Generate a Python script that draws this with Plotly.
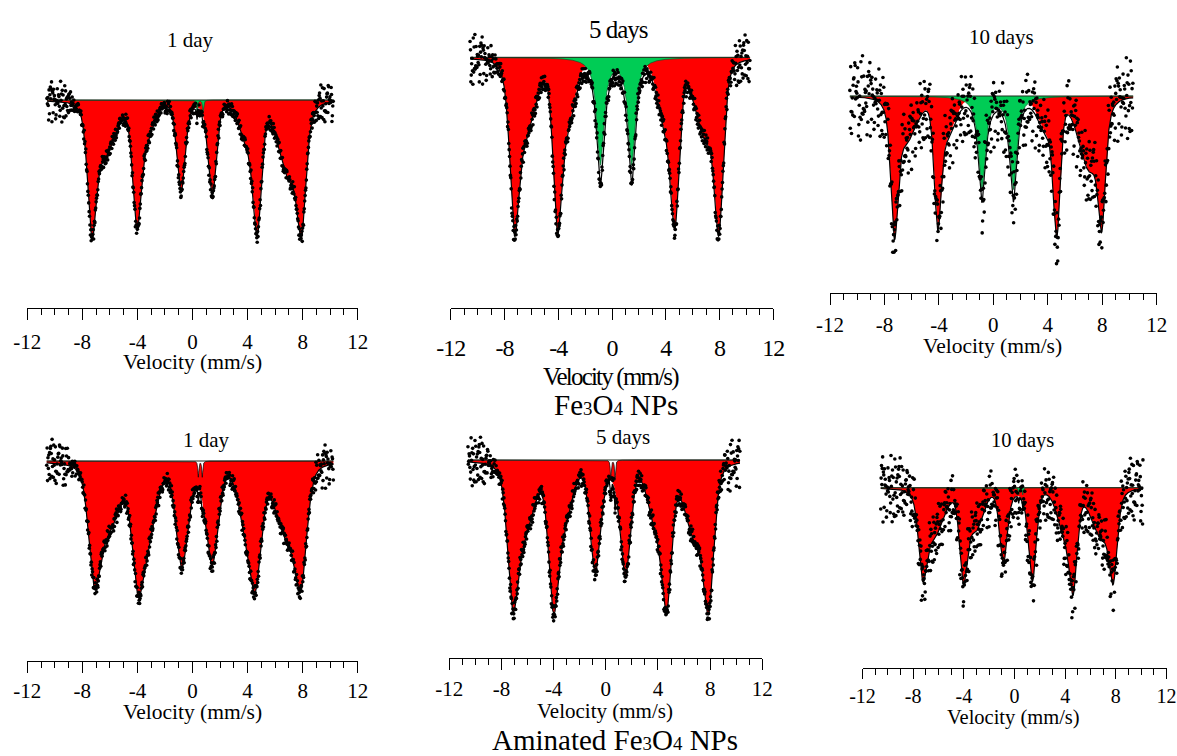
import numpy as np
import plotly.graph_objects as go

# ---------------- data ----------------
panel_titles = ["1 day", "5 days", "10 days", "1 day", "5 days", "10 days"]
group_labels = ["Fe<span style='font-size:65%'>3</span>O<span style='font-size:65%'>4</span> NPs",
                "Aminated Fe<span style='font-size:65%'>3</span>O<span style='font-size:65%'>4</span> NPs"]
tick_values = [-12, -8, -4, 0, 4, 8, 12]
tick_labels = ["-12", "-8", "-4", "0", "4", "8", "12"]
minor_tick_values = list(range(-12, 13))
axis_title = "Velocity (mm/s)"

# measured velocity span of each spectrum (mm/s)
velocity_start = [-10.57, -10.56, -10.54, -10.59, -10.57, -10.56]
velocity_end = [10.23, 10.27, 10.27, 10.23, 10.29, 10.14]

# sextet line minima: position (mm/s) and absorption depth of the fit there (%)
tip_pos = [
    [-7.32, -4.05, -0.84, 1.44, 4.71, 7.93],
    [-7.27, -4.07, -0.87, 1.46, 4.69, 7.96],
    [-7.27, -4.09, -0.85, 1.47, 4.66, 7.97],
    [-7.13, -3.98, -0.79, 1.44, 4.61, 7.88],
    [-7.14, -4.02, -0.83, 1.52, 4.67, 7.90],
    [-7.25, -4.04, -0.88, 1.41, 4.64, 7.80],
]
tip_depth = [
    [6.97, 6.50, 4.60, 4.80, 6.80, 6.90],
    [8.90, 8.80, 6.40, 6.40, 8.60, 8.90],
    [7.17, 6.70, 5.30, 5.30, 7.10, 6.80],
    [6.33, 6.75, 5.30, 5.23, 6.45, 6.53],
    [7.55, 7.67, 5.67, 5.83, 7.67, 7.67],
    [4.70, 4.83, 3.75, 4.70, 5.37, 4.83],
]
sharp_width = [0.70, 0.75, 0.60, 1.00, 0.90, 0.70]
sharp_eta = [0.30, 0.30, 0.30, 0.40, 0.40, 0.30]

# broad inner shoulders of the sextet lines
shoulder_pos = [
    [-6.45, -3.45, -0.55, 1.15, 4.05, 7.10],
    [-6.55, -3.35, -0.60, 1.20, 4.00, 7.00],
    [-6.50, -3.40, -0.60, 1.20, 3.90, 7.10],
    [-6.10, -3.20, -0.45, 1.10, 4.00, 6.85],
    [-6.35, -3.20, -0.50, 1.20, 3.80, 6.90],
    [-6.45, -3.10, -0.60, 1.10, 4.00, 6.90],
]
shoulder_depth = [
    [2.7, 1.8, 0.15, 0.15, 2.0, 3.8],
    [3.8, 3.0, 0.30, 0.30, 3.0, 3.8],
    [2.2, 1.8, 0.30, 0.30, 1.6, 3.6],
    [3.0, 3.0, 0.60, 0.60, 3.0, 3.4],
    [3.4, 2.6, 0.60, 0.60, 2.6, 3.6],
    [2.4, 2.0, 0.30, 0.30, 2.2, 2.4],
]
shoulder_width = [1.9, 1.4, 1.2, 1.2, 1.4, 1.9]
shoulder_eta = 0.15

# doublet component
doublet_pos = [[0.33, 0.77], [-0.87, 1.46], [-0.85, 1.47], [0.42, 0.71], [0.38, 0.71], [0.33, 0.65]]
doublet_depth = [[0.6, 0.6], [5.3, 5.3], [4.6, 4.6], [0.8, 0.8], [1.0, 1.0], [0.35, 0.35]]
doublet_width = [0.10, 0.63, 0.60, 0.08, 0.08, 0.08]

# spread of the measured counts around the fit (%), inside and at the ends of the sweep
scatter_core = [0.35, 0.45, 1.8, 0.40, 0.45, 1.4]
scatter_edge = [1.1, 1.3, 2.2, 1.2, 1.3, 1.8]
residuals = [0.12, -0.45, 0.78, -0.08, 0.33, -0.91, 0.05, 0.56, -0.27, -0.62, 0.41, 0.18,
             -0.74, 0.93, -0.15, 0.29, -0.38, 0.67, -0.02, -0.55, 0.84, -0.21, 0.10, -0.86,
             0.47, 0.25, -0.33, 0.61, -0.69, 0.02, 0.38, -0.12, -0.97, 0.72, 0.15, -0.48,
             0.53, -0.06, 0.88, -0.31, -0.18, 0.44, -0.59, 0.21, 0.07, -0.79, 0.64, -0.25,
             0.35, -0.41, 0.99, -0.10, -0.66, 0.26, 0.51, -0.36, 0.09, -0.83, 0.70, -0.17,
             0.31, -0.52, 0.16, 0.81, -0.04, -0.71, 0.43, -0.28, 0.58, -0.93, 0.19, 0.03,
             -0.44, 0.76, -0.23, 0.36, -0.61, 0.11, 0.49, -0.88, 0.27, -0.14, 0.62, -0.39,
             0.08, -0.57, 0.95, -0.01, -0.34, 0.40, -0.76, 0.23, 0.55, -0.20, -0.50, 0.13,
             0.69, -0.65, 0.32, -0.09, 0.46]

# ---------------- layout geometry (pixels) and styles ----------------
W, H = 1177, 756
PX_PER_PCT = 20.0
FONT = "Liberation Serif"
geo = [
    dict(xl=27.3, xr=357.7, axis_y=308.3, base_y=100.0, tfs=21, ticklen=11, standoff=3,
         title_xy=(190.7, 40), title_fs=21, lab_xy=(192.5, 362), lab_fs=21.5, squeeze=0),
    dict(xl=450.7, xr=773.3, axis_y=308.3, base_y=57.3, tfs=24, ticklen=11, standoff=7,
         title_xy=(618, 30), title_fs=25, lab_xy=(610.7, 377), lab_fs=25, squeeze=1.8),
    dict(xl=830.0, xr=1156.7, axis_y=293.3, base_y=96.0, tfs=21, ticklen=11, standoff=1,
         title_xy=(1001.7, 37.3), title_fs=21, lab_xy=(992.7, 346), lab_fs=21.5, squeeze=0),
    dict(xl=27.3, xr=357.7, axis_y=660.7, base_y=461.0, tfs=21, ticklen=11, standoff=0,
         title_xy=(206.7, 440), title_fs=21, lab_xy=(192, 711.7), lab_fs=21.5, squeeze=0),
    dict(xl=449.3, xr=762.3, axis_y=658.3, base_y=460.0, tfs=21, ticklen=11, standoff=0,
         title_xy=(622.7, 437.3), title_fs=21, lab_xy=(605, 710.7), lab_fs=21, squeeze=0),
    dict(xl=862.5, xr=1166.5, axis_y=668.3, base_y=487.7, tfs=20, ticklen=10, standoff=0,
         title_xy=(1022.7, 440), title_fs=20.5, lab_xy=(1013.3, 717.3), lab_fs=20.5, squeeze=0),
]
group_xy = [(616, 405), (615, 740)]
group_fs = 29
RED = "#FF0000"
GREEN = "#00CC55"
doublet_fill = [GREEN, GREEN, GREEN, "white", "white", GREEN]
doublet_edge = ["#0a5a2a", "#0a5a2a", "#0a5a2a", "black", "black", "#0a5a2a"]


def pvoigt(v, p, d, w, eta):
    x = (v - p) / (w / 2.0)
    return d * (eta / (1.0 + x * x) + (1.0 - eta) * np.exp(-np.log(2.0) * x * x))


def squeeze_text(t, s):
    if s:
        return '<span style="letter-spacing:-%gpx">%s</span>' % (s, t)
    return t


fig = go.Figure()
layout = dict(
    width=W, height=H, margin=dict(l=0, r=0, t=0, b=0),
    paper_bgcolor="white", plot_bgcolor="rgba(0,0,0,0)",
    showlegend=False, template="none", annotations=[],
    font=dict(family=FONT, color="black"),
)

for k in range(6):
    g = geo[k]
    xa = "x" if k == 0 else "x%d" % (k + 1)
    ya = "y" if k == 0 else "y%d" % (k + 1)

    tp = np.array(tip_pos[k])
    td = np.array(tip_depth[k])
    wA, eA = sharp_width[k], sharp_eta[k]

    def shoulder(v):
        return sum(pvoigt(v, p, d, w, shoulder_eta)
                   for p, d, w in zip(shoulder_pos[k], shoulder_depth[k], shoulder_width))

    def doublet(v):
        return sum(pvoigt(v, p, d, doublet_width[k], 1.0) for p, d in zip(doublet_pos[k], doublet_depth[k]))

    M = np.array([[pvoigt(tp[j], tp[i], 1.0, wA, eA) for i in range(6)] for j in range(6)])
    rhs = td - shoulder(tp) - doublet(tp)
    amp = np.clip(np.linalg.solve(M, rhs), 0, None)

    def sextet(v):
        return sum(pvoigt(v, tp[i], amp[i], wA, eA) for i in range(6)) + shoulder(v)

    vf = np.linspace(velocity_start[k], velocity_end[k], 4200)
    red = sextet(vf)
    grn = doublet(vf)
    tot = red + grn
    base = np.full_like(vf, 100.0)

    # measured points
    vd = np.arange(velocity_start[k], velocity_end[k] + 1e-9, 0.03)
    n = len(residuals)
    res = np.array([residuals[(i * 31 + k * 17) % n] for i in range(len(vd))])
    spread = scatter_core[k] + (scatter_edge[k] - scatter_core[k]) * np.clip((np.abs(vd) - 8.6) / 0.8, 0, 1)
    yd = 100.0 - (sextet(vd) + doublet(vd)) + spread * res

    common = dict(xaxis=xa, yaxis=ya, hoverinfo="skip")
    fig.add_trace(go.Scatter(x=vf, y=base, mode="lines", line=dict(width=0, color=RED), **common))
    fig.add_trace(go.Scatter(x=vf, y=100.0 - red, mode="lines", fill="tonexty", fillcolor=RED,
                             line=dict(width=0, color=RED), **common))
    fig.add_trace(go.Scatter(x=vf, y=100.0 - tot, mode="lines", line=dict(width=1.2, color="black"), **common))
    fig.add_trace(go.Scatter(x=vf, y=base, mode="lines", line=dict(width=0, color=GREEN), **common))
    fig.add_trace(go.Scatter(x=vf, y=100.0 - grn, mode="lines", fill="tonexty", fillcolor=doublet_fill[k],
                             line=dict(width=0.7, color=doublet_edge[k]), **common))
    fig.add_trace(go.Scatter(x=vf, y=base, mode="lines", line=dict(width=1, color="#1c2a1c"), **common))
    fig.add_trace(go.Scatter(x=vd, y=yd, mode="markers",
                             marker=dict(size=3.6, color="black", line=dict(width=0)), **common))

    B = g["base_y"]
    yr = [100.0 - (H - B) / PX_PER_PCT, 100.0 + B / PX_PER_PCT]
    sq = g["squeeze"]
    layout["xaxis" if k == 0 else "xaxis%d" % (k + 1)] = dict(
        domain=[g["xl"] / W, g["xr"] / W], range=[-12, 12], anchor="free",
        position=1 - g["axis_y"] / H, showline=True, linecolor="black", linewidth=1,
        ticks="outside", ticklen=g["ticklen"], tickwidth=1, tickcolor="black",
        tickmode="array", tickvals=tick_values,
        ticktext=[squeeze_text(t, 1 if sq else 0) for t in tick_labels],
        tickfont=dict(family=FONT, size=g["tfs"], color="black"),
        ticklabelstandoff=g["standoff"],
        showgrid=False, zeroline=False, fixedrange=True,
        minor=dict(tickmode="array", tickvals=minor_tick_values, ticks="outside",
                   ticklen=6, tickwidth=1, tickcolor="black", showgrid=False),
    )
    layout["yaxis" if k == 0 else "yaxis%d" % (k + 1)] = dict(
        domain=[0, 1], range=yr, visible=False, anchor="free", position=0,
        showgrid=False, zeroline=False, fixedrange=True,
    )
    tx, ty = g["title_xy"]
    layout["annotations"].append(dict(
        x=tx / W, y=1 - ty / H, xref="paper", yref="paper", showarrow=False,
        text=squeeze_text(panel_titles[k], 1 if sq else 0), xanchor="center", yanchor="middle",
        font=dict(family=FONT, size=g["title_fs"], color="black")))
    lx, ly = g["lab_xy"]
    layout["annotations"].append(dict(
        x=lx / W, y=1 - ly / H, xref="paper", yref="paper", showarrow=False,
        text=squeeze_text(axis_title, sq), xanchor="center", yanchor="middle",
        font=dict(family=FONT, size=g["lab_fs"], color="black")))

for (gx, gy), lab in zip(group_xy, group_labels):
    layout["annotations"].append(dict(
        x=gx / W, y=1 - gy / H, xref="paper", yref="paper", showarrow=False,
        text=lab, xanchor="center", yanchor="middle",
        font=dict(family=FONT, size=group_fs, color="black")))

fig.update_layout(**layout)
fig.write_html("out.html")
